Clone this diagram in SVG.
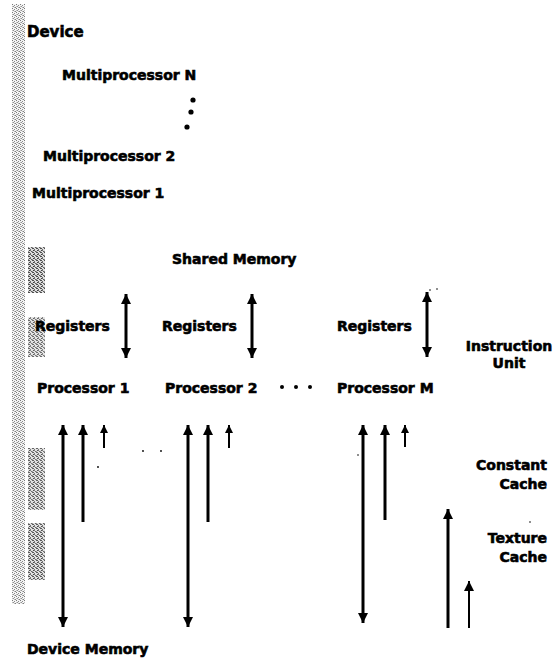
<svg xmlns="http://www.w3.org/2000/svg" width="554" height="660" viewBox="0 0 554 660">
  <style>
    .lbl { font-family: "DejaVu Sans", Verdana, sans-serif; font-weight: bold; font-size: 14px; fill: #000; stroke: #000; stroke-width: 0.6; }
    .title { font-size: 15px; }
    .wire { stroke: #000; stroke-width: 3; fill: none; }
    .thin { stroke-width: 2; }
  </style>
  <defs>
    <!-- light stipple for the device edge -->
    <pattern id="stipple" width="4" height="4" patternUnits="userSpaceOnUse">
      <rect width="4" height="4" fill="#f4f4f4"/>
      <rect x="0" y="0" width="1" height="1" fill="#7a7a7a"/>
      <rect x="2" y="1" width="1" height="1" fill="#8a8a8a"/>
      <rect x="1" y="2" width="1" height="1" fill="#909090"/>
      <rect x="3" y="3" width="1" height="1" fill="#808080"/>
      <rect x="2" y="3" width="1" height="1" fill="#b8b8b8"/>
      <rect x="0" y="2" width="1" height="1" fill="#c0c0c0"/>
    </pattern>
    <!-- denser stipple for the memory blocks -->
    <pattern id="speckle" width="4" height="4" patternUnits="userSpaceOnUse">
      <rect width="4" height="4" fill="#d8d8d8"/>
      <rect x="0" y="0" width="2" height="1" fill="#303030"/>
      <rect x="2" y="1" width="1" height="2" fill="#505050"/>
      <rect x="1" y="2" width="1" height="1" fill="#202020"/>
      <rect x="3" y="3" width="1" height="1" fill="#404040"/>
      <rect x="0" y="3" width="1" height="1" fill="#7a7a7a"/>
    </pattern>
    <marker id="head" viewBox="0 0 10 10" refX="10" refY="5" markerWidth="10" markerHeight="10" markerUnits="userSpaceOnUse" orient="auto-start-reverse">
      <path d="M0,0 L10,5 L0,10 Z" fill="#000"/>
    </marker>
    <marker id="headS" viewBox="0 0 10 10" refX="10" refY="5" markerWidth="8" markerHeight="8" markerUnits="userSpaceOnUse" orient="auto-start-reverse">
      <path d="M0,0 L10,5 L0,10 Z" fill="#000"/>
    </marker>
  </defs>

  <!-- device outline remnants -->
  <g id="device-edge">
    <rect x="12" y="4" width="13" height="600" fill="url(#stipple)"/>
    <rect x="28" y="247" width="17" height="46" fill="url(#speckle)" opacity="0.85"/>
    <rect x="28" y="317" width="17" height="40" fill="url(#speckle)" opacity="0.7"/>
    <rect x="28" y="448" width="17" height="62" fill="url(#speckle)" opacity="0.75"/>
    <rect x="28" y="523" width="17" height="57" fill="url(#speckle)" opacity="0.8"/>
  </g>

  <g id="device"><text class="lbl title" x="27" y="37">Device</text></g>
  <g id="mp-n"><text class="lbl" x="62" y="80">Multiprocessor N</text></g>
  <g id="mp-dots">
    <circle cx="193" cy="100" r="2.6"/>
    <circle cx="191" cy="112" r="2.6"/>
    <circle cx="187" cy="127" r="2.6"/>
  </g>
  <g id="mp-2"><text class="lbl" x="43" y="161">Multiprocessor 2</text></g>
  <g id="mp-1"><text class="lbl" x="32" y="198">Multiprocessor 1</text></g>

  <g id="shared-memory"><text class="lbl" x="172" y="264">Shared Memory</text></g>

  <g id="registers-1"><text class="lbl" x="35" y="331">Registers</text></g>
  <g id="registers-2"><text class="lbl" x="162" y="331">Registers</text></g>
  <g id="registers-m"><text class="lbl" x="337" y="331">Registers</text></g>

  <g id="instruction-unit">
    <text class="lbl" x="509" y="351" text-anchor="middle">Instruction</text>
    <text class="lbl" x="509" y="368" text-anchor="middle">Unit</text>
  </g>

  <g id="processor-1"><text class="lbl" x="37" y="393">Processor 1</text></g>
  <g id="processor-2"><text class="lbl" x="165" y="393">Processor 2</text></g>
  <g id="proc-dots">
    <circle cx="282" cy="387" r="2"/>
    <circle cx="296" cy="387" r="2"/>
    <circle cx="310" cy="387" r="2"/>
  </g>
  <g id="processor-m"><text class="lbl" x="337" y="393">Processor M</text></g>

  <g id="constant-cache">
    <text class="lbl" x="547" y="470" text-anchor="end">Constant</text>
    <text class="lbl" x="547" y="489" text-anchor="end">Cache</text>
  </g>
  <g id="texture-cache">
    <text class="lbl" x="547" y="543" text-anchor="end">Texture</text>
    <text class="lbl" x="547" y="562" text-anchor="end">Cache</text>
  </g>

  <g id="device-memory"><text class="lbl" x="27" y="654">Device Memory</text></g>

  <g id="connectors">
    <!-- registers <-> shared memory -->
    <line class="wire" x1="126" y1="358" x2="126" y2="294" marker-start="url(#head)" marker-end="url(#head)"/>
    <line class="wire" x1="252" y1="358" x2="252" y2="294" marker-start="url(#head)" marker-end="url(#head)"/>
    <line class="wire" x1="427" y1="357" x2="427" y2="292" marker-start="url(#head)" marker-end="url(#head)"/>

    <!-- processor 1 -->
    <line class="wire" x1="63" y1="627" x2="63" y2="425" marker-start="url(#head)" marker-end="url(#head)"/>
    <line class="wire" x1="83" y1="522" x2="83" y2="425" marker-end="url(#head)"/>
    <line class="wire thin" x1="104" y1="448" x2="104" y2="425" marker-end="url(#headS)"/>

    <!-- processor 2 -->
    <line class="wire" x1="188" y1="627" x2="188" y2="425" marker-start="url(#head)" marker-end="url(#head)"/>
    <line class="wire" x1="208" y1="522" x2="208" y2="425" marker-end="url(#head)"/>
    <line class="wire thin" x1="229" y1="448" x2="229" y2="425" marker-end="url(#headS)"/>

    <!-- processor M -->
    <line class="wire" x1="363" y1="623" x2="363" y2="425" marker-start="url(#head)" marker-end="url(#head)"/>
    <line class="wire" x1="385" y1="520" x2="385" y2="425" marker-end="url(#head)"/>
    <line class="wire thin" x1="405" y1="447" x2="405" y2="425" marker-end="url(#headS)"/>

    <!-- caches -->
    <line class="wire" x1="448" y1="628" x2="448" y2="509" marker-end="url(#head)"/>
    <line class="wire thin" x1="469" y1="628" x2="469" y2="581" marker-end="url(#head)"/>
  </g>

  <!-- loose specks -->
  <g id="specks" fill="#000">
    <circle cx="143" cy="451" r="0.9"/>
    <circle cx="161" cy="451" r="0.9"/>
    <circle cx="98" cy="467" r="0.9"/>
    <circle cx="358" cy="455" r="0.8"/>
    <circle cx="530" cy="522" r="0.8"/>
    <circle cx="430" cy="290" r="0.8"/>
    <circle cx="437" cy="289" r="0.8"/>
  </g>
</svg>
